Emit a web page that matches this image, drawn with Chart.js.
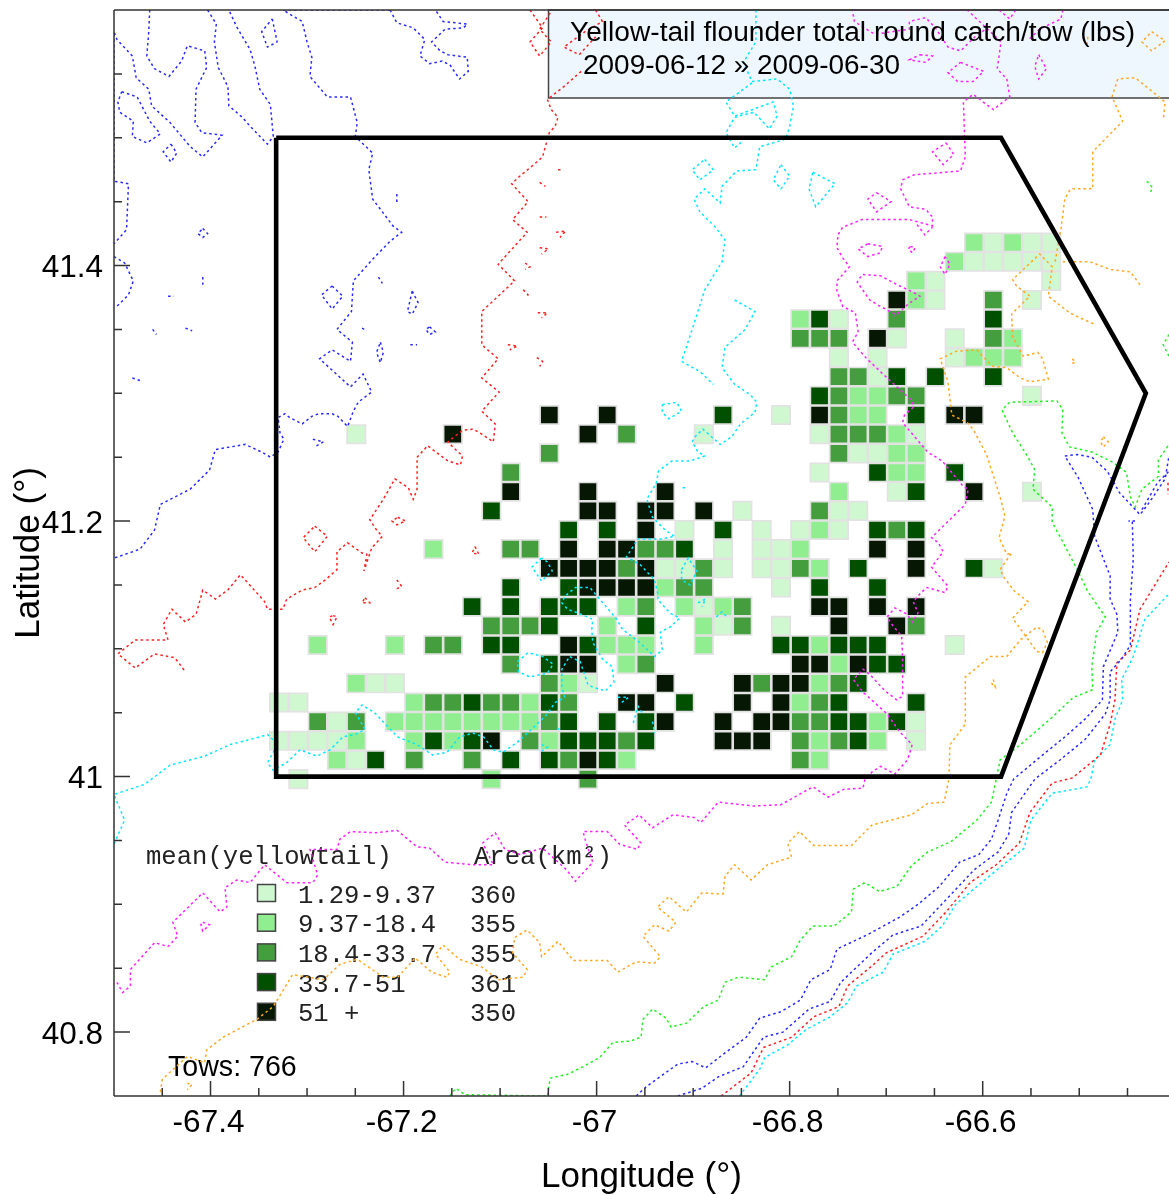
<!DOCTYPE html>
<html><head><meta charset="utf-8">
<style>html,body{margin:0;padding:0;background:#fff}canvas{display:block}</style>
<script src="https://cdn.jsdelivr.net/npm/chart.js@4"></script></head>
<body><canvas id="c" width="1169" height="1195"></canvas>
<script>
const titleLines=["Yellow-tail flounder total round catch/tow (lbs)","2009-06-12 » 2009-06-30"];
const xTickLabels=[-67.4,-67.2,-67,-66.8,-66.6];
const yTickLabels=[40.8,41,41.2,41.4];
const xMinorTicks=[-67.45,-67.35,-67.3,-67.25,-67.15,-67.1,-67.05,-66.95,-66.9,-66.85,-66.75,-66.7,-66.65,-66.55,-66.5,-66.45];
const yMinorTicks=[40.85,40.9,40.95,41.05,41.1,41.15,41.25,41.3,41.35,41.45,41.5,41.55];
const classLabels=["1.29-9.37","9.37-18.4","18.4-33.7","33.7-51","51 +"];
const classAreas=[360,355,355,361,350];
const classColors=["#d0f8d0","#90ee90","#449e3e","#005000","#061803"];
const towsLabel="Tows: 766";
const cellLon=[-67.329,-67.309,-67.289,-67.269,-67.249,-67.229,-67.209,-67.189,-67.169,-67.149,-67.129,-67.109,-67.089,-67.069,-67.049,-67.029,-67.009,-66.989,-66.969,-66.949,-66.929,-66.909,-66.889,-66.869,-66.849,-66.829,-66.809,-66.789,-66.769,-66.749,-66.729,-66.709,-66.689,-66.669,-66.649,-66.629,-66.609,-66.589,-66.569,-66.549,-66.529];
const cellLat=[40.998,41.013,41.028,41.043,41.058,41.073,41.088,41.103,41.118,41.133,41.148,41.163,41.178,41.193,41.208,41.223,41.238,41.253,41.268,41.283,41.298,41.313,41.328,41.343,41.358,41.373,41.388,41.403,41.418];
// per latitude row: [longitude column, catch class]
const cellRows=[
[[1,1],[11,2],[16,3]],
[[3,2],[4,1],[5,4],[7,3],[10,3],[12,4],[14,4],[15,3],[16,5],[17,4],[18,2],[27,3],[28,2]],
[[0,1],[1,1],[2,1],[3,1],[4,2],[7,2],[8,4],[9,2],[10,4],[11,5],[13,3],[14,2],[15,4],[16,4],[17,4],[18,3],[19,4],[23,5],[24,5],[25,5],[27,3],[28,2],[29,3],[30,4],[31,2],[33,1]],
[[2,3],[3,1],[4,3],[6,2],[7,2],[8,2],[9,2],[10,2],[11,2],[12,2],[13,2],[14,3],[15,4],[17,4],[19,4],[20,5],[23,5],[25,5],[26,5],[27,3],[28,3],[29,4],[30,4],[31,2],[32,4],[33,1]],
[[0,1],[1,1],[7,2],[8,3],[9,3],[10,4],[11,3],[12,3],[13,2],[14,4],[15,3],[18,5],[19,5],[21,4],[24,5],[26,5],[27,2],[28,3],[29,4],[33,4]],
[[4,2],[5,1],[6,1],[14,3],[15,2],[16,1],[20,5],[24,5],[25,3],[26,5],[27,5],[28,2],[29,3],[30,4]],
[[12,3],[14,4],[15,5],[16,5],[18,2],[19,3],[27,5],[28,5],[29,2],[30,5],[31,4],[32,4]],
[[2,2],[6,2],[8,3],[9,3],[11,4],[12,4],[15,5],[16,4],[17,2],[18,2],[19,2],[22,2],[26,4],[27,4],[28,2],[29,4],[30,4],[31,4],[35,1]],
[[11,3],[12,3],[13,3],[14,4],[17,2],[19,4],[22,2],[23,1],[24,3],[26,1],[29,5],[32,5],[33,3]],
[[10,4],[12,4],[14,4],[15,4],[16,4],[18,2],[19,3],[21,2],[22,1],[23,2],[24,3],[28,5],[29,5],[31,5],[33,5]],
[[12,4],[15,4],[16,5],[17,5],[18,5],[19,5],[20,2],[21,3],[22,3],[26,1],[28,4],[31,4]],
[[14,5],[15,5],[16,5],[17,5],[18,3],[19,5],[20,1],[21,1],[22,3],[23,1],[25,1],[26,1],[27,3],[28,2],[30,4],[33,5],[36,4],[37,1]],
[[8,2],[12,3],[13,3],[15,5],[17,5],[18,5],[19,3],[20,3],[21,4],[23,1],[25,1],[26,1],[27,2],[31,5],[33,5]],
[[15,4],[17,4],[19,5],[21,1],[23,4],[25,1],[27,1],[28,2],[29,1],[31,4],[32,3],[33,4]],
[[11,4],[16,5],[17,5],[19,5],[20,5],[22,5],[24,1],[28,3],[29,1],[30,1]],
[[12,5],[16,5],[20,5],[29,2],[32,1],[33,4],[36,5],[39,1]],
[[12,3],[28,1],[31,4],[32,2],[33,2],[35,4]],
[[14,3],[29,3],[30,1],[31,1],[32,2],[33,2]],
[[4,1],[9,5],[16,5],[18,3],[22,1],[28,1],[29,3],[30,3],[31,3],[32,2],[33,1]],
[[14,5],[17,5],[23,4],[26,1],[28,5],[29,3],[30,2],[31,2],[33,4],[35,5],[36,5]],
[[28,4],[29,3],[30,2],[31,2],[32,3],[33,3],[39,1]],
[[29,3],[30,3],[31,1],[32,4],[34,4],[37,4]],
[[29,1],[31,1],[35,1],[36,2],[37,2],[38,2]],
[[27,3],[28,3],[29,3],[31,5],[32,1],[35,1],[37,3],[38,2]],
[[27,2],[28,4],[29,1],[32,3],[37,4]],
[[32,5],[33,2],[34,1],[37,3],[39,1]],
[[33,2],[34,1],[40,1]],
[[35,2],[36,1],[37,1],[38,1],[39,1],[40,1]],
[[36,2],[37,1],[38,2],[39,1],[40,1]]
];
const strata=[[-67.332,41.5],[-66.581,41.5],[-66.431,41.3],[-66.581,41],[-67.332,41],[-67.332,41.5]];
const blueContours=[
[[-67.463,41.6],[-67.464,41.583],[-67.466,41.564],[-67.458,41.554],[-67.443,41.548],[-67.43,41.56],[-67.424,41.572],[-67.406,41.568],[-67.404,41.555],[-67.415,41.538],[-67.416,41.512],[-67.409,41.504],[-67.388,41.502],[-67.408,41.485],[-67.421,41.493],[-67.442,41.512],[-67.461,41.525],[-67.464,41.538],[-67.477,41.547],[-67.481,41.564],[-67.497,41.577],[-67.5,41.583],[-67.5,41.466],[-67.485,41.464],[-67.487,41.428],[-67.5,41.417]],
[[-67.5,41.407],[-67.489,41.402],[-67.48,41.388],[-67.485,41.377],[-67.497,41.368]],
[[-67.403,41.6],[-67.394,41.589],[-67.396,41.575],[-67.392,41.555],[-67.382,41.54],[-67.381,41.525],[-67.367,41.516],[-67.359,41.509],[-67.341,41.495],[-67.335,41.501],[-67.338,41.526],[-67.349,41.538],[-67.354,41.556],[-67.359,41.569],[-67.373,41.587],[-67.381,41.6]],
[[-67.492,41.536],[-67.476,41.532],[-67.463,41.513],[-67.452,41.503],[-67.466,41.496],[-67.481,41.501],[-67.48,41.513],[-67.494,41.52],[-67.496,41.528],[-67.492,41.536]],
[[-67.441,41.495],[-67.435,41.488],[-67.441,41.481],[-67.449,41.489],[-67.441,41.495]],
[[-67.336,41.593],[-67.331,41.575],[-67.341,41.571],[-67.347,41.583],[-67.336,41.593]],
[[-67.214,41.6],[-67.325,41.6],[-67.305,41.591],[-67.3,41.575],[-67.295,41.563],[-67.297,41.548],[-67.279,41.532],[-67.255,41.532],[-67.248,41.512],[-67.25,41.501],[-67.232,41.488],[-67.236,41.475],[-67.232,41.452],[-67.211,41.431],[-67.202,41.426],[-67.214,41.419],[-67.232,41.405],[-67.252,41.388],[-67.254,41.364],[-67.269,41.35],[-67.253,41.34],[-67.255,41.325],[-67.274,41.334],[-67.287,41.327],[-67.255,41.305],[-67.242,41.315],[-67.233,41.301],[-67.247,41.293],[-67.252,41.286],[-67.258,41.274],[-67.268,41.282],[-67.274,41.284],[-67.288,41.284],[-67.295,41.282],[-67.305,41.276],[-67.318,41.281],[-67.323,41.284],[-67.33,41.281],[-67.328,41.269],[-67.324,41.264],[-67.33,41.254],[-67.338,41.25],[-67.347,41.254],[-67.364,41.26],[-67.395,41.256],[-67.401,41.24],[-67.421,41.225],[-67.452,41.213],[-67.458,41.193],[-67.473,41.178],[-67.5,41.171]],
[[-67.214,41.6],[-67.207,41.59],[-67.19,41.586],[-67.178,41.577],[-67.183,41.564],[-67.173,41.558],[-67.16,41.56],[-67.152,41.557],[-67.142,41.546],[-67.133,41.552],[-67.134,41.563],[-67.154,41.565],[-67.162,41.568],[-67.171,41.575],[-67.157,41.585],[-67.138,41.586],[-67.134,41.589],[-67.159,41.591],[-67.167,41.6]],
[[-67.274,41.384],[-67.263,41.376],[-67.274,41.366],[-67.285,41.377],[-67.274,41.384]],
[[-67.191,41.38],[-67.185,41.371],[-67.191,41.362],[-67.196,41.364],[-67.191,41.38]],
[[-67.224,41.34],[-67.221,41.332],[-67.224,41.324],[-67.228,41.332],[-67.224,41.34]],
[[-67.173,41.352],[-67.167,41.348],[-67.173,41.346],[-67.177,41.35],[-67.173,41.352]],
[[-67.207,41.456],[-67.207,41.449]],
[[-67.408,41.429],[-67.403,41.425],[-67.408,41.422],[-67.413,41.425],[-67.408,41.429]],
[[-67.408,41.391],[-67.408,41.385]],[[-67.444,41.376],[-67.438,41.376]],[[-67.46,41.35],[-67.456,41.346]],[[-67.426,41.351],[-67.419,41.349]],[[-67.481,41.312],[-67.473,41.31]],[[-67.226,41.391],[-67.222,41.386]],[[-67.243,41.351],[-67.238,41.349]],[[-67.193,41.338],[-67.186,41.338]],
[[-67.294,41.264],[-67.283,41.262],[-67.292,41.258]],
[[-66.959,40.75],[-66.949,40.757],[-66.916,40.775],[-66.901,40.777],[-66.887,40.772],[-66.87,40.782],[-66.845,40.796],[-66.831,40.811],[-66.809,40.816],[-66.789,40.825],[-66.778,40.841],[-66.758,40.849],[-66.751,40.865],[-66.72,40.876],[-66.686,40.89],[-66.667,40.9],[-66.645,40.914],[-66.624,40.933],[-66.604,40.939],[-66.591,40.951],[-66.584,40.966],[-66.575,40.987],[-66.568,40.998],[-66.541,41.015],[-66.515,41.031],[-66.494,41.045],[-66.476,41.06],[-66.475,41.086],[-66.46,41.113],[-66.461,41.127],[-66.468,41.139],[-66.468,41.157],[-66.484,41.188],[-66.486,41.209],[-66.501,41.234],[-66.515,41.251],[-66.502,41.252],[-66.487,41.25],[-66.471,41.239],[-66.458,41.222],[-66.437,41.205],[-66.427,41.215],[-66.411,41.233],[-66.407,41.251]],
[[-66.435,41.209],[-66.419,41.23],[-66.407,41.239]],
[[-66.916,40.75],[-66.891,40.756],[-66.874,40.765],[-66.848,40.773],[-66.827,40.796],[-66.807,40.8],[-66.78,40.818],[-66.758,40.824],[-66.747,40.839],[-66.715,40.862],[-66.693,40.876],[-66.664,40.883],[-66.635,40.906],[-66.609,40.927],[-66.584,40.941],[-66.573,40.955],[-66.57,40.972],[-66.546,40.998],[-66.52,41.013],[-66.494,41.029],[-66.473,41.049],[-66.468,41.06],[-66.468,41.082],[-66.456,41.092],[-66.447,41.103],[-66.447,41.139],[-66.444,41.17],[-66.445,41.2],[-66.449,41.2],[-66.44,41.2]]
];
const redContours=[
[[-67.069,41.6],[-67.056,41.586],[-67.069,41.575],[-67.059,41.564],[-67.047,41.575],[-67.059,41.585],[-67.047,41.599]],
[[-67.001,41.6],[-66.994,41.591],[-67.012,41.583],[-67.034,41.571],[-67.018,41.565],[-67.001,41.579]],
[[-67.016,41.552],[-67.034,41.54],[-67.051,41.53],[-67.047,41.522],[-67.04,41.516],[-67.043,41.509],[-67.049,41.504],[-67.052,41.496],[-67.056,41.485],[-67.062,41.481],[-67.081,41.469],[-67.088,41.464],[-67.071,41.45],[-67.087,41.436],[-67.072,41.426],[-67.102,41.401],[-67.085,41.388],[-67.119,41.364],[-67.119,41.338],[-67.102,41.327],[-67.119,41.312],[-67.101,41.301],[-67.119,41.286],[-67.105,41.276],[-67.107,41.262],[-67.119,41.268],[-67.128,41.272],[-67.139,41.271],[-67.154,41.262],[-67.149,41.258],[-67.139,41.251],[-67.141,41.244],[-67.154,41.247],[-67.17,41.256],[-67.175,41.259],[-67.186,41.25],[-67.186,41.225],[-67.19,41.217],[-67.195,41.226],[-67.209,41.233],[-67.221,41.217],[-67.235,41.201],[-67.228,41.193],[-67.222,41.188],[-67.233,41.179],[-67.241,41.161],[-67.238,41.174],[-67.243,41.175],[-67.258,41.183],[-67.269,41.176],[-67.269,41.162],[-67.281,41.154],[-67.292,41.148],[-67.305,41.146],[-67.321,41.139],[-67.325,41.131],[-67.341,41.131],[-67.344,41.137],[-67.369,41.158],[-67.382,41.146],[-67.395,41.139],[-67.408,41.146],[-67.415,41.127],[-67.426,41.121],[-67.44,41.131],[-67.449,41.119],[-67.444,41.107],[-67.463,41.107],[-67.478,41.107],[-67.496,41.096],[-67.478,41.085],[-67.458,41.096],[-67.437,41.093],[-67.426,41.082]],
[[-67.04,41.475],[-67.035,41.475]],[[-67.059,41.465],[-67.053,41.462]],[[-67.059,41.438],[-67.052,41.438]],[[-67.042,41.426],[-67.032,41.427],[-67.038,41.422]],[[-67.059,41.414],[-67.05,41.413],[-67.057,41.409]],[[-67.074,41.402],[-67.069,41.399],[-67.074,41.397]],[[-67.076,41.381],[-67.071,41.377],[-67.074,41.375]],[[-67.061,41.363],[-67.051,41.363],[-67.057,41.359]],[[-67.092,41.338],[-67.082,41.337],[-67.09,41.334]],[[-67.062,41.328],[-67.056,41.325],[-67.059,41.321]],
[[-67.292,41.196],[-67.279,41.188],[-67.292,41.176],[-67.304,41.187],[-67.292,41.196]],
[[-67.206,41.203],[-67.198,41.2],[-67.207,41.197],[-67.212,41.2],[-67.206,41.203]],
[[-67.126,41.18],[-67.122,41.174],[-67.129,41.175],[-67.126,41.18]],
[[-67.207,41.154],[-67.202,41.149],[-67.209,41.146]],
[[-67.24,41.14],[-67.235,41.136],[-67.243,41.136],[-67.24,41.14]],
[[-67.273,41.126],[-67.269,41.125],[-67.273,41.119],[-67.277,41.125],[-67.273,41.126]],
[[-66.871,40.75],[-66.84,40.768],[-66.827,40.788],[-66.798,40.796],[-66.775,40.812],[-66.749,40.82],[-66.74,40.836],[-66.713,40.853],[-66.7,40.862],[-66.662,40.875],[-66.638,40.894],[-66.613,40.917],[-66.586,40.931],[-66.562,40.948],[-66.551,40.972],[-66.528,40.995],[-66.507,40.999],[-66.478,41.017],[-66.468,41.041],[-66.463,41.06],[-66.461,41.089],[-66.447,41.099],[-66.437,41.131],[-66.407,41.168]],
[[-66.408,41.23],[-66.408,41.221]]
];
const cyanContours=[
[[-66.835,41.6],[-66.835,41.575],[-66.848,41.559],[-66.839,41.544],[-66.813,41.546],[-66.8,41.538],[-66.796,41.525],[-66.8,41.509],[-66.804,41.499],[-66.817,41.496],[-66.831,41.493],[-66.835,41.475],[-66.855,41.474],[-66.87,41.462],[-66.872,41.449],[-66.888,41.46],[-66.899,41.452],[-66.893,41.442],[-66.877,41.43],[-66.867,41.42],[-66.87,41.403],[-66.888,41.381],[-66.901,41.35],[-66.912,41.325],[-66.893,41.317],[-66.879,41.307]],
[[-66.857,41.373],[-66.836,41.364],[-66.846,41.35],[-66.867,41.336],[-66.87,41.32],[-66.857,41.307],[-66.841,41.299],[-66.834,41.293],[-66.836,41.285],[-66.851,41.276],[-66.86,41.266],[-66.872,41.26],[-66.881,41.266],[-66.89,41.272],[-66.898,41.266],[-66.901,41.262],[-66.895,41.254],[-66.888,41.251],[-66.903,41.247],[-66.922,41.247],[-66.936,41.239],[-66.938,41.23],[-66.948,41.217],[-66.942,41.203],[-66.929,41.193],[-66.919,41.188],[-66.934,41.186],[-66.957,41.186],[-66.969,41.172],[-66.955,41.166],[-66.94,41.154],[-66.936,41.141],[-66.937,41.139],[-66.924,41.128],[-66.914,41.124],[-66.924,41.117],[-66.934,41.113],[-66.932,41.099],[-66.94,41.094],[-66.957,41.106],[-66.973,41.115],[-66.979,41.123],[-66.997,41.139],[-67.007,41.148],[-67.022,41.148],[-67.033,41.141],[-67.036,41.136],[-67.03,41.131],[-67.019,41.128],[-67.004,41.123],[-67.005,41.115],[-67.004,41.105],[-66.994,41.092],[-66.984,41.086],[-66.982,41.074],[-66.991,41.067],[-67.004,41.07],[-67.009,41.072],[-67.017,41.09],[-67.028,41.094],[-67.036,41.084],[-67.036,41.07],[-67.033,41.062],[-67.043,41.058],[-67.051,41.049],[-67.066,41.038],[-67.082,41.027],[-67.097,41.019],[-67.107,41.021],[-67.117,41.031],[-67.128,41.034],[-67.142,41.031],[-67.155,41.019],[-67.17,41.017],[-67.186,41.025],[-67.206,41.031],[-67.23,41.05],[-67.243,41.056],[-67.25,41.05],[-67.24,41.037],[-67.25,41.033],[-67.263,41.031],[-67.276,41.021],[-67.29,41.016],[-67.307,41.021],[-67.321,41.011],[-67.335,41.005],[-67.341,41.011],[-67.335,41.019],[-67.33,41.025],[-67.341,41.033],[-67.349,41.031],[-67.38,41.025],[-67.406,41.016],[-67.442,41.009],[-67.468,40.994],[-67.5,40.986],[-67.489,40.966],[-67.5,40.947]],
[[-66.932,41.291],[-66.917,41.293],[-66.912,41.286],[-66.925,41.28],[-66.932,41.285],[-66.932,41.291]],
[[-66.809,41.479],[-66.8,41.47],[-66.809,41.46],[-66.817,41.467],[-66.809,41.479]],
[[-66.776,41.473],[-66.753,41.464],[-66.773,41.446],[-66.78,41.46],[-66.776,41.473]],
[[-66.888,41.483],[-66.879,41.475],[-66.893,41.467],[-66.901,41.475],[-66.888,41.483]],
[[-66.839,41.543],[-66.866,41.528],[-66.857,41.517],[-66.817,41.528],[-66.813,41.517],[-66.821,41.507],[-66.837,41.52],[-66.857,41.516],[-66.866,41.504],[-66.857,41.492],[-66.848,41.498]],
[[-67.082,41.09],[-67.071,41.097],[-67.056,41.094],[-67.045,41.088],[-67.051,41.081],[-67.069,41.078],[-67.081,41.082],[-67.082,41.09]],
[[-66.912,41.162],[-66.905,41.171],[-66.896,41.161],[-66.903,41.15],[-66.912,41.154],[-66.912,41.162]],
[[-67.057,41.171],[-67.067,41.164],[-67.057,41.153],[-67.046,41.161],[-67.051,41.168],[-67.057,41.171]],
[[-66.895,41.136],[-66.887,41.139],[-66.891,41.133]],[[-66.876,41.125],[-66.87,41.129],[-66.865,41.125]],[[-66.978,41.062],[-66.967,41.062],[-66.974,41.058]],[[-66.962,41.042],[-66.957,41.055],[-66.952,41.049]],[[-66.942,41.043],[-66.94,41.034]],[[-67.057,41.025],[-67.051,41.023],[-67.057,41.02]],[[-67.041,41.037],[-67.036,41.038]],[[-66.911,41.226],[-66.906,41.226]],
[[-66.852,40.75],[-66.831,40.771],[-66.826,40.78],[-66.802,40.79],[-66.783,40.802],[-66.758,40.812],[-66.74,40.823],[-66.731,40.836],[-66.703,40.847],[-66.693,40.861],[-66.66,40.871],[-66.642,40.883],[-66.628,40.9],[-66.606,40.914],[-66.582,40.929],[-66.557,40.944],[-66.55,40.966],[-66.528,40.987],[-66.492,40.992],[-66.488,40.998],[-66.484,41.013],[-66.468,41.025],[-66.463,41.045],[-66.455,41.06],[-66.456,41.076],[-66.444,41.094],[-66.432,41.123],[-66.407,41.143]]
];
const greenContours=[
[[-67.152,40.75],[-67.146,40.756],[-67.136,40.751],[-67.051,40.75],[-67.048,40.764],[-67.03,40.767],[-67.014,40.773],[-66.997,40.78],[-66.983,40.792],[-66.965,40.793],[-66.954,40.796],[-66.952,40.81],[-66.942,40.818],[-66.928,40.811],[-66.923,40.804],[-66.907,40.807],[-66.889,40.82],[-66.874,40.825],[-66.867,40.839],[-66.853,40.843],[-66.826,40.841],[-66.819,40.851],[-66.798,40.859],[-66.789,40.872],[-66.776,40.883],[-66.754,40.883],[-66.736,40.894],[-66.734,40.912],[-66.722,40.917],[-66.707,40.91],[-66.689,40.914],[-66.674,40.93],[-66.657,40.941],[-66.633,40.949],[-66.606,40.966],[-66.591,40.98],[-66.586,40.998],[-66.582,41.013],[-66.561,41.025],[-66.53,41.045],[-66.506,41.062],[-66.486,41.068],[-66.487,41.086],[-66.482,41.113],[-66.473,41.125],[-66.492,41.146],[-66.502,41.162],[-66.52,41.188],[-66.528,41.199],[-66.528,41.211],[-66.548,41.225],[-66.546,41.24],[-66.553,41.25],[-66.569,41.269],[-66.58,41.287],[-66.572,41.293],[-66.523,41.294],[-66.517,41.287],[-66.518,41.269],[-66.51,41.258],[-66.487,41.254],[-66.465,41.246],[-66.451,41.238],[-66.447,41.219],[-66.442,41.211],[-66.435,41.225],[-66.418,41.235],[-66.418,41.248],[-66.407,41.26]],
[[-66.43,41.466],[-66.424,41.461],[-66.427,41.456]],
[[-66.407,41.346],[-66.413,41.338],[-66.407,41.329]]
];
const orangeContours=[
[[-67.452,40.753],[-67.45,40.763],[-67.424,40.781],[-67.406,40.776],[-67.404,40.786],[-67.387,40.796],[-67.352,40.81],[-67.335,40.82],[-67.315,40.845],[-67.283,40.841],[-67.266,40.853],[-67.248,40.857],[-67.221,40.843],[-67.206,40.843],[-67.188,40.858],[-67.171,40.847],[-67.155,40.843],[-67.152,40.847],[-67.167,40.861],[-67.159,40.868],[-67.142,40.857],[-67.119,40.851],[-67.102,40.841],[-67.076,40.843],[-67.072,40.849],[-67.087,40.862],[-67.085,40.874],[-67.072,40.88],[-67.059,40.87],[-67.057,40.859],[-67.04,40.871],[-67.024,40.856],[-66.989,40.856],[-66.978,40.847],[-66.959,40.855],[-66.94,40.854],[-66.934,40.859],[-66.952,40.875],[-66.94,40.884],[-66.925,40.879],[-66.918,40.886],[-66.937,40.898],[-66.925,40.906],[-66.907,40.894],[-66.891,40.909],[-66.869,40.908],[-66.867,40.922],[-66.857,40.931],[-66.84,40.919],[-66.823,40.931],[-66.798,40.937],[-66.802,40.948],[-66.79,40.957],[-66.775,40.946],[-66.736,40.946],[-66.715,40.962],[-66.674,40.97],[-66.657,40.979],[-66.64,40.98],[-66.635,40.998],[-66.634,41.025],[-66.618,41.041],[-66.618,41.06],[-66.618,41.078],[-66.592,41.094],[-66.575,41.094],[-66.561,41.107],[-66.544,41.117],[-66.538,41.115],[-66.533,41.105],[-66.538,41.097],[-66.544,41.098],[-66.569,41.124],[-66.553,41.137],[-66.567,41.145],[-66.579,41.157],[-66.582,41.162],[-66.57,41.175],[-66.575,41.174],[-66.583,41.187],[-66.577,41.204],[-66.582,41.219],[-66.596,41.252],[-66.61,41.272],[-66.616,41.277],[-66.632,41.283],[-66.636,41.309],[-66.644,41.327],[-66.627,41.333],[-66.606,41.334],[-66.595,41.325],[-66.589,41.321],[-66.575,41.32],[-66.561,41.312],[-66.551,41.309],[-66.532,41.311],[-66.538,41.327],[-66.543,41.332],[-66.558,41.329],[-66.569,41.344],[-66.57,41.362],[-66.558,41.371],[-66.551,41.376],[-66.565,41.384],[-66.569,41.389],[-66.541,41.409],[-66.528,41.399],[-66.532,41.376],[-66.51,41.363],[-66.499,41.359],[-66.484,41.354]],
[[-66.525,41.403],[-66.521,41.42],[-66.519,41.428],[-66.515,41.452],[-66.509,41.46],[-66.486,41.46],[-66.486,41.489],[-66.455,41.513],[-66.466,41.532],[-66.46,41.546],[-66.442,41.547],[-66.411,41.528],[-66.413,41.514]],
[[-66.517,41.403],[-66.489,41.403],[-66.468,41.397],[-66.447,41.395],[-66.437,41.385]],
[[-66.475,41.266],[-66.47,41.262],[-66.475,41.258],[-66.478,41.262],[-66.475,41.266]],
[[-66.507,41.327],[-66.504,41.324],[-66.51,41.323]],
[[-66.589,41.076],[-66.587,41.07],[-66.592,41.074]],
[[-66.425,41.583],[-66.411,41.576],[-66.425,41.568],[-66.435,41.575],[-66.425,41.583]],
[[-67.424,40.76],[-67.419,40.759],[-67.424,40.755]],
[[-66.491,41.579],[-66.492,41.572]]
];
const magentaContours=[
[[-67.497,40.839],[-67.491,40.831],[-67.483,40.836],[-67.483,40.849],[-67.458,40.87],[-67.444,40.867],[-67.434,40.875],[-67.439,40.886],[-67.408,40.909],[-67.39,40.894],[-67.383,40.898],[-67.385,40.913],[-67.373,40.919],[-67.359,40.917],[-67.344,40.931],[-67.321,40.917],[-67.294,40.917],[-67.289,40.923],[-67.297,40.943],[-67.269,40.943],[-67.266,40.951],[-67.255,40.957],[-67.228,40.956],[-67.207,40.958],[-67.186,40.945],[-67.173,40.944],[-67.157,40.933],[-67.128,40.931],[-67.107,40.931],[-67.118,40.948],[-67.105,40.956],[-67.095,40.943],[-67.079,40.939],[-67.056,40.944],[-67.031,40.927],[-67.022,40.918],[-67.004,40.933],[-67.012,40.951],[-67.014,40.957],[-66.989,40.957],[-66.976,40.947],[-66.958,40.943],[-66.954,40.948],[-66.965,40.957],[-66.971,40.962],[-66.956,40.97],[-66.942,40.96],[-66.921,40.97],[-66.899,40.968],[-66.892,40.964],[-66.874,40.98],[-66.838,40.977],[-66.809,40.978],[-66.776,40.992],[-66.76,40.984],[-66.744,40.99],[-66.724,40.991],[-66.722,40.998],[-66.714,41.004],[-66.706,41.008],[-66.691,41.002],[-66.678,41.013],[-66.673,41.025],[-66.686,41.035],[-66.699,41.049],[-66.724,41.066],[-66.734,41.076],[-66.724,41.084],[-66.717,41.08],[-66.701,41.067],[-66.689,41.06],[-66.683,41.063],[-66.683,41.092],[-66.684,41.11],[-66.694,41.119],[-66.699,41.125],[-66.691,41.132],[-66.678,41.127],[-66.673,41.121],[-66.667,41.128],[-66.672,41.137],[-66.665,41.143],[-66.658,41.148],[-66.639,41.144],[-66.636,41.149],[-66.653,41.164],[-66.641,41.176],[-66.646,41.183],[-66.653,41.187],[-66.641,41.196],[-66.618,41.213],[-66.615,41.225],[-66.62,41.227],[-66.642,41.247],[-66.657,41.254],[-66.675,41.27],[-66.683,41.277],[-66.681,41.283],[-66.672,41.289],[-66.673,41.294],[-66.699,41.312],[-66.72,41.327],[-66.735,41.34],[-66.729,41.348],[-66.732,41.363],[-66.745,41.368],[-66.751,41.38],[-66.751,41.388],[-66.738,41.399],[-66.745,41.406],[-66.751,41.414],[-66.75,41.424],[-66.745,41.43],[-66.725,41.436],[-66.676,41.436],[-66.652,41.431],[-66.652,41.438],[-66.659,41.444],[-66.676,41.446],[-66.685,41.46],[-66.683,41.467],[-66.671,41.471],[-66.623,41.474],[-66.618,41.485],[-66.62,41.528],[-66.61,41.534],[-66.589,41.522],[-66.572,41.532],[-66.575,41.546],[-66.585,41.554],[-66.581,41.575],[-66.616,41.6],[-66.735,41.6],[-66.733,41.591],[-66.712,41.581],[-66.676,41.585],[-66.676,41.591],[-66.659,41.594],[-66.649,41.586],[-66.636,41.571],[-66.623,41.568],[-66.608,41.579],[-66.597,41.585]],
[[-66.583,41.6],[-66.572,41.593],[-66.566,41.6]],
[[-66.517,41.6],[-66.519,41.593],[-66.541,41.585],[-66.552,41.577]],
[[-66.665,41.565],[-66.652,41.564],[-66.659,41.559],[-66.676,41.561],[-66.665,41.565]],
[[-66.623,41.559],[-66.599,41.552],[-66.61,41.544],[-66.626,41.544],[-66.636,41.551],[-66.623,41.559]],
[[-66.542,41.565],[-66.534,41.554],[-66.542,41.546],[-66.546,41.556],[-66.542,41.565]],
[[-66.638,41.496],[-66.63,41.487],[-66.641,41.479],[-66.652,41.489],[-66.638,41.496]],
[[-66.71,41.457],[-66.695,41.45],[-66.71,41.442],[-66.719,41.452],[-66.71,41.457]],
[[-66.719,41.417],[-66.704,41.415],[-66.706,41.41],[-66.719,41.407],[-66.729,41.413],[-66.719,41.417]],
[[-66.675,41.415],[-66.67,41.414],[-66.673,41.41],[-66.677,41.413],[-66.675,41.415]],
[[-66.691,41.362],[-66.706,41.368],[-66.717,41.373],[-66.73,41.387],[-66.725,41.393],[-66.706,41.392],[-66.686,41.384],[-66.672,41.379],[-66.665,41.376],[-66.677,41.37],[-66.691,41.36]],
[[-66.639,41.407],[-66.644,41.399],[-66.639,41.393],[-66.634,41.401],[-66.639,41.407]],
[[-66.668,41.432],[-66.66,41.424],[-66.652,41.43]],
[[-67.408,40.886],[-67.401,40.884],[-67.408,40.879],[-67.41,40.884],[-67.408,40.886]]
];

function joinPieces(pieces){const out=[];pieces.forEach(p=>{p.forEach(q=>out.push({x:q[0],y:q[1]}));out.push({x:null,y:null});});return out;}
function contourSet(label,pieces,color){return {type:'scatter',label,data:joinPieces(pieces),showLine:true,spanGaps:false,pointRadius:0,borderColor:color,borderWidth:1.5,borderDash:[2.5,3],tension:0,fill:false};}
function cellSet(cls){const data=[];cellRows.forEach((row,j)=>row.forEach(c=>{if(c[1]===cls)data.push({x:cellLon[c[0]],y:cellLat[j]});}));
 return {type:'scatter',label:classLabels[cls-1],data,pointStyle:'rect',pointRadius:13,pointHoverRadius:13,backgroundColor:classColors[cls-1],borderColor:'#e2e2e2',pointBorderWidth:1.7,showLine:false};}

const chromePlugin={id:'chrome',
 beforeDatasetsDraw(ch){const c=ch.ctx,a=ch.chartArea;c.save();
  c.fillStyle='#eef6fe';c.strokeStyle='#444';c.lineWidth=1.5;
  c.fillRect(548,a.top,a.right-548,88);c.strokeRect(548.5,a.top,a.right-548+4,88);
  c.fillStyle='#222';c.font='25.6px "Liberation Mono"';c.textBaseline='alphabetic';c.textAlign='left';
  c.fillText('mean(yellowtail)',146,864);c.fillText('Area(km²)',474,864);
  classLabels.forEach((t,i)=>{const y=893+i*29.7;
    c.fillStyle=classColors[i];c.fillRect(257.5,y-8.5,18,17);c.strokeStyle='#444';c.lineWidth=1.5;c.strokeRect(257.5,y-8.5,18,17);
    c.fillStyle='#222';c.fillText(t,298,y+9.5);c.fillText(String(classAreas[i]),470,y+9.5);});
  c.fillStyle='#000';c.font='28.6px "Liberation Sans"';c.fillText(towsLabel,168,1076,130);
  c.restore();},
 afterDatasetsDraw(ch){const c=ch.ctx,a=ch.chartArea,X=ch.scales.x,Y=ch.scales.y;c.save();
  c.fillStyle='#000';c.font='28.2px "Liberation Sans"';c.textAlign='left';c.textBaseline='alphabetic';
  c.fillText(titleLines[0],570,41,565);c.fillText(titleLines[1],583,74,317);
  c.strokeStyle='#333';c.lineWidth=1.5;
  c.beginPath();c.moveTo(a.left,a.top);c.lineTo(a.right,a.top);c.moveTo(a.left,a.top);c.lineTo(a.left,a.bottom);c.moveTo(a.left,a.bottom);c.lineTo(a.right,a.bottom);
  xTickLabels.forEach(v=>{const p=X.getPixelForValue(v);c.moveTo(p,a.bottom);c.lineTo(p,a.bottom-15);});
  xMinorTicks.forEach(v=>{const p=X.getPixelForValue(v);c.moveTo(p,a.bottom);c.lineTo(p,a.bottom-8);});
  yTickLabels.forEach(v=>{const p=Y.getPixelForValue(v);c.moveTo(a.left,p);c.lineTo(a.left+16,p);});
  yMinorTicks.forEach(v=>{const p=Y.getPixelForValue(v);c.moveTo(a.left,p);c.lineTo(a.left+8,p);});
  c.stroke();c.restore();}
};

new Chart(document.getElementById('c'),{
 type:'scatter',
 data:{datasets:[
  {type:'scatter',label:'Strata',data:strata.map(p=>({x:p[0],y:p[1]})),showLine:true,pointRadius:0,borderColor:'#000',borderWidth:4.6,tension:0,fill:false,borderJoinStyle:'miter'},
  contourSet('Blue contours',blueContours,'#2a2aff'),
  contourSet('Red contours',redContours,'#ff2020'),
  contourSet('Cyan contours',cyanContours,'#00e8ff'),
  contourSet('Magenta contours',magentaContours,'#ff20ff'),
  contourSet('Orange contours',orangeContours,'#ffa820'),
  contourSet('Green contours',greenContours,'#20f020'),
  cellSet(5),cellSet(4),cellSet(3),cellSet(2),cellSet(1)
 ]},
 options:{responsive:false,animation:false,devicePixelRatio:1,
  layout:{autoPadding:false,padding:{top:10,left:0,right:0,bottom:0}},
  plugins:{legend:{display:false},title:{display:false},tooltip:{enabled:false}},
  scales:{
   x:{type:'linear',min:-67.5,max:-66.407,grid:{display:false,drawTicks:false},border:{display:false},
    afterBuildTicks:s=>{s.ticks=xTickLabels.map(v=>({value:v}));},
    afterFit:s=>{s.height=99;s.paddingLeft=0;s.paddingRight=0;s.paddingTop=0;s.paddingBottom=0;},
    ticks:{autoSkip:false,maxRotation:0,padding:8,labelOffset:-2,color:'#000',font:{family:'"Liberation Sans"',size:31.5},callback:v=>String(v)},
    title:{display:true,text:'Longitude (°)',color:'#000',font:{family:'"Liberation Sans"',size:35,lineHeight:1},padding:{top:0,bottom:0}}},
   y:{type:'linear',min:40.75,max:41.6,grid:{display:false,drawTicks:false},border:{display:false},
    afterBuildTicks:s=>{s.ticks=yTickLabels.map(v=>({value:v}));},
    afterFit:s=>{s.width=114;s.paddingTop=0;s.paddingBottom=0;s.paddingLeft=0;s.paddingRight=0;},
    ticks:{autoSkip:false,padding:11,labelOffset:3,color:'#000',font:{family:'"Liberation Sans"',size:31.5},callback:v=>String(v)},
    title:{display:true,text:'Latitude (°)',color:'#000',font:{family:'"Liberation Sans"',size:35,lineHeight:1},padding:{top:12,bottom:0}}}
  }},
 plugins:[chromePlugin]
});
</script></body></html>
